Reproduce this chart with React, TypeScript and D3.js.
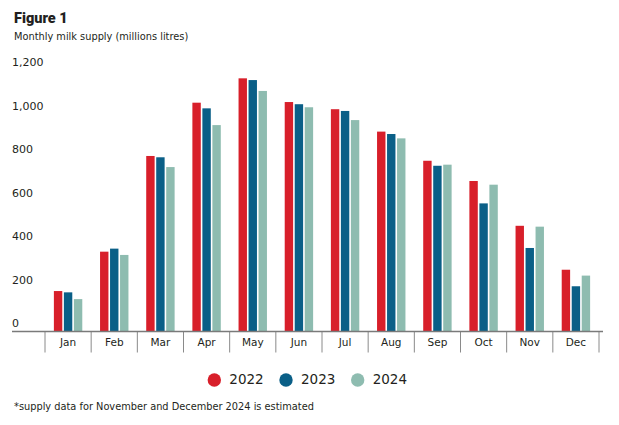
import React from "react";
import * as d3 from "d3";

const months = ["Jan", "Feb", "Mar", "Apr", "May", "Jun", "Jul", "Aug", "Sep", "Oct", "Nov", "Dec"];
const years = ["2022", "2023", "2024"];
const supply2022 = [186, 367, 807, 1052, 1164, 1055, 1022, 919, 785, 692, 486, 284];
const supply2023 = [180, 381, 801, 1026, 1156, 1045, 1014, 908, 762, 589, 384, 208];
const supply2024 = [149, 352, 756, 949, 1106, 1031, 972, 888, 767, 675, 482, 257];
const yTicks = [0, 200, 400, 600, 800, 1000, 1200];
const colors = ["#d81f2a", "#0a5f87", "#8ebcb0"];
const title = "Figure 1";
const subtitle = "Monthly milk supply (millions litres)";
const footnote = "*supply data for November and December 2024 is estimated";

const series = [supply2022, supply2023, supply2024];
const FONT = "'DejaVu Sans', sans-serif";
const TEXT = "#231f20";

export default function App() {
  const W = 619, H = 425;
  const x = d3.scaleBand<string>().domain(months).range([45, 599]).padding(0);
  const xi = d3.scaleBand<string>().domain(years).range([0, 28.4]).paddingInner(0.16);
  const y = d3.scaleLinear().domain([0, 1200]).range([331.5, 70.5]);
  const color = d3.scaleOrdinal<string, string>().domain(years).range(colors);
  const fmt = d3.format(",");
  const edges = months.map((m) => x(m)!).concat([x(months[months.length - 1])! + x.bandwidth()]);

  const legendX = [214.3, 286, 357.7];

  return (
    <div style={{ position: "absolute", left: 0, top: 0 }}>
      <svg width={W} height={H} style={{ display: "block", background: "#fff" }} fontFamily={FONT}>
        <text x={14} y={22.5} fontSize={14.5} fontWeight={900} fontFamily="Roboto, sans-serif" fill={TEXT}>{title}</text>
        <text x={14} y={40} fontSize={9.8} fill={TEXT}>{subtitle}</text>

        {yTicks.map((t) => (
          <text key={t} x={12} y={y(t) - 7.5} dominantBaseline="middle" fontSize={11} fill={TEXT}>
            {fmt(t)}
          </text>
        ))}

        {months.map((m, i) => (
          <g key={m} transform={`translate(${x(m)! + x.bandwidth() / 2 - 14.2},0)`}>
            {years.map((yr, j) => (
              <rect
                key={yr}
                x={xi(yr)}
                width={xi.bandwidth()}
                y={y(series[j][i])}
                height={y(0) - y(series[j][i])}
                fill={color(yr)}
              />
            ))}
          </g>
        ))}

        {edges.map((e, i) => (
          <line key={i} x1={e} x2={e} y1={331.5} y2={352.5} stroke="#8a8a8a" strokeWidth={1} />
        ))}
        <line x1={12} x2={603} y1={331.5} y2={331.5} stroke="#7a7a7a" strokeWidth={1.5} />

        {months.map((m) => (
          <text key={m} x={x(m)! + x.bandwidth() / 2} y={343} textAnchor="middle" dominantBaseline="middle" fontSize={10.5} fill={TEXT}>
            {m}
          </text>
        ))}

        {years.map((yr, j) => (
          <g key={yr}>
            <circle cx={legendX[j]} cy={380} r={6.7} fill={color(yr)} />
            <text x={legendX[j] + 15} y={380} dominantBaseline="middle" fontSize={13.5} fill={TEXT}>{yr}</text>
          </g>
        ))}

        <text x={14} y={410} fontSize={9.8} fill={TEXT}>{footnote}</text>
      </svg>
    </div>
  );
}
